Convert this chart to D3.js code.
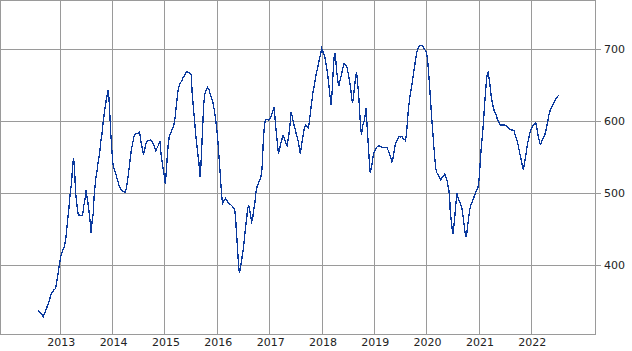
<!DOCTYPE html>
<html>
<head>
<meta charset="utf-8">
<script src="https://cdn.jsdelivr.net/npm/d3@7"></script>
<style>
  body { margin: 0; background: #fff; }
  .grid line { stroke: #9a9a9a; stroke-width: 1; shape-rendering: crispEdges; }
  .frame { fill: none; stroke: #9a9a9a; stroke-width: 1; shape-rendering: crispEdges; }
  .label { font-family: "DejaVu Sans", sans-serif; font-size: 11px; fill: #222; }
  .series { fill: none; stroke: #0b3a9e; stroke-width: 1.3; shape-rendering: crispEdges; }
</style>
</head>
<body>
<div id="chart"></div>
<script>
// weekly series, time given as decimal year
var decimalYears = [
  2012.580, 2012.631, 2012.675, 2012.720, 2012.771, 2012.822, 2012.866, 2012.911, 2012.943, 2012.975,
  2013.006, 2013.038, 2013.076, 2013.102, 2013.121, 2013.140, 2013.166, 2013.191, 2013.217, 2013.236,
  2013.255, 2013.274, 2013.293, 2013.325, 2013.344, 2013.408, 2013.427, 2013.446, 2013.471, 2013.490,
  2013.510, 2013.529, 2013.548, 2013.567, 2013.586, 2013.611, 2013.631, 2013.643, 2013.662, 2013.682,
  2013.701, 2013.720, 2013.739, 2013.758, 2013.777, 2013.796, 2013.809, 2013.828, 2013.847, 2013.866,
  2013.885, 2013.904, 2013.917, 2013.930, 2013.949, 2013.968, 2013.987, 2014.006, 2014.025, 2014.051,
  2014.076, 2014.102, 2014.127, 2014.153, 2014.185, 2014.217, 2014.242, 2014.261, 2014.280, 2014.299,
  2014.318, 2014.338, 2014.357, 2014.382, 2014.408, 2014.433, 2014.459, 2014.490, 2014.516, 2014.535,
  2014.561, 2014.586, 2014.605, 2014.624, 2014.650, 2014.682, 2014.726, 2014.758, 2014.777, 2014.803,
  2014.828, 2014.854, 2014.879, 2014.904, 2014.924, 2014.949, 2014.975, 2014.994, 2015.006, 2015.025,
  2015.045, 2015.064, 2015.083, 2015.108, 2015.134, 2015.159, 2015.185, 2015.204, 2015.223, 2015.242,
  2015.261, 2015.293, 2015.318, 2015.350, 2015.382, 2015.414, 2015.446, 2015.478, 2015.503, 2015.522,
  2015.548, 2015.573, 2015.592, 2015.611, 2015.631, 2015.650, 2015.669, 2015.688, 2015.707, 2015.726,
  2015.745, 2015.764, 2015.790, 2015.815, 2015.841, 2015.866, 2015.892, 2015.917, 2015.943, 2015.968,
  2015.987, 2016.006, 2016.025, 2016.045, 2016.064, 2016.083, 2016.102, 2016.127, 2016.159, 2016.185,
  2016.210, 2016.242, 2016.274, 2016.306, 2016.331, 2016.350, 2016.363, 2016.376, 2016.389, 2016.401,
  2016.414, 2016.427, 2016.446, 2016.465, 2016.484, 2016.503, 2016.522, 2016.541, 2016.561, 2016.580,
  2016.599, 2016.618, 2016.637, 2016.656, 2016.675, 2016.694, 2016.720, 2016.739, 2016.758, 2016.783,
  2016.809, 2016.834, 2016.854, 2016.866, 2016.879, 2016.898, 2016.917, 2016.943, 2016.975, 2017.000,
  2017.025, 2017.051, 2017.076, 2017.089, 2017.102, 2017.121, 2017.140, 2017.153, 2017.166, 2017.185,
  2017.204, 2017.229, 2017.255, 2017.280, 2017.306, 2017.331, 2017.350, 2017.369, 2017.389, 2017.408,
  2017.427, 2017.446, 2017.465, 2017.490, 2017.510, 2017.535, 2017.554, 2017.573, 2017.586, 2017.605,
  2017.624, 2017.643, 2017.662, 2017.688, 2017.713, 2017.739, 2017.758, 2017.777, 2017.796, 2017.815,
  2017.834, 2017.854, 2017.873, 2017.892, 2017.917, 2017.936, 2017.955, 2017.975, 2017.994, 2018.026,
  2018.051, 2018.071, 2018.090, 2018.109, 2018.128, 2018.147, 2018.160, 2018.173, 2018.192, 2018.212,
  2018.231, 2018.250, 2018.263, 2018.282, 2018.301, 2018.321, 2018.340, 2018.359, 2018.378, 2018.397,
  2018.423, 2018.449, 2018.474, 2018.494, 2018.513, 2018.532, 2018.551, 2018.571, 2018.583, 2018.603,
  2018.622, 2018.641, 2018.660, 2018.679, 2018.699, 2018.718, 2018.737, 2018.756, 2018.769, 2018.788,
  2018.808, 2018.827, 2018.840, 2018.853, 2018.872, 2018.891, 2018.910, 2018.923, 2018.942, 2018.962,
  2018.981, 2019.006, 2019.032, 2019.058, 2019.090, 2019.122, 2019.147, 2019.173, 2019.205, 2019.237,
  2019.263, 2019.288, 2019.314, 2019.340, 2019.359, 2019.378, 2019.397, 2019.423, 2019.449, 2019.474,
  2019.500, 2019.526, 2019.551, 2019.577, 2019.596, 2019.615, 2019.635, 2019.654, 2019.673, 2019.692,
  2019.712, 2019.731, 2019.750, 2019.769, 2019.788, 2019.808, 2019.827, 2019.853, 2019.878, 2019.910,
  2019.936, 2019.962, 2019.987, 2020.006, 2020.019, 2020.038, 2020.058, 2020.077, 2020.096, 2020.115,
  2020.135, 2020.154, 2020.173, 2020.192, 2020.218, 2020.244, 2020.269, 2020.288, 2020.308, 2020.327,
  2020.346, 2020.365, 2020.385, 2020.404, 2020.423, 2020.442, 2020.449, 2020.468, 2020.487, 2020.500,
  2020.519, 2020.538, 2020.558, 2020.577, 2020.596, 2020.615, 2020.635, 2020.654, 2020.673, 2020.692,
  2020.712, 2020.731, 2020.750, 2020.769, 2020.788, 2020.808, 2020.827, 2020.846, 2020.865, 2020.885,
  2020.904, 2020.923, 2020.942, 2020.962, 2020.981, 2021.000, 2021.013, 2021.026, 2021.045, 2021.064,
  2021.083, 2021.103, 2021.122, 2021.141, 2021.160, 2021.173, 2021.192, 2021.212, 2021.231, 2021.250,
  2021.269, 2021.288, 2021.308, 2021.327, 2021.346, 2021.365, 2021.385, 2021.410, 2021.436, 2021.462,
  2021.487, 2021.513, 2021.538, 2021.564, 2021.590, 2021.615, 2021.641, 2021.667, 2021.692, 2021.712,
  2021.731, 2021.750, 2021.769, 2021.788, 2021.808, 2021.827, 2021.846, 2021.865, 2021.885, 2021.904,
  2021.923, 2021.942, 2021.962, 2021.981, 2022.006, 2022.032, 2022.058, 2022.083, 2022.103, 2022.122,
  2022.141, 2022.160, 2022.179, 2022.199, 2022.218, 2022.237, 2022.256, 2022.276, 2022.295, 2022.314,
  2022.333, 2022.359, 2022.385, 2022.410, 2022.436, 2022.462, 2022.487, 2022.519
];

var prices = [
  337, 333, 329, 337, 347, 359, 365, 368, 382, 398,
  412, 419, 426, 435, 449, 463, 481, 502, 516, 542,
  549, 530, 500, 479, 470, 469, 470, 482, 491, 504,
  495, 486, 475, 463, 445, 463, 472, 493, 509, 523,
  531, 542, 550, 560, 574, 582, 593, 604, 616, 624,
  633, 639, 644, 632, 606, 579, 558, 541, 535, 529,
  523, 516, 510, 506, 503, 502, 501, 507, 516, 525,
  537, 549, 560, 569, 579, 582, 583, 583, 585, 574,
  565, 555, 558, 565, 572, 573, 574, 572, 569, 564,
  559, 564, 567, 572, 556, 542, 530, 521, 513, 530,
  551, 569, 579, 583, 588, 592, 600, 612, 625, 639,
  647, 653, 656, 661, 665, 669, 668, 667, 664, 637,
  616, 595, 579, 567, 553, 542, 523, 539, 569, 600,
  627, 639, 643, 647, 644, 638, 632, 626, 616, 604,
  592, 579, 560, 539, 519, 498, 486, 490, 493, 490,
  487, 485, 483, 480, 478, 467, 449, 435, 421, 407,
  394, 390, 398, 407, 417, 426, 440, 454, 465, 479,
  484, 477, 468, 461, 465, 477, 488, 502, 509, 514,
  518, 523, 535, 553, 574, 592, 602, 603, 602, 603,
  606, 613, 617, 620, 604, 588, 574, 565, 555, 560,
  567, 574, 580, 576, 570, 566, 574, 583, 595, 613,
  608, 601, 595, 588, 581, 576, 569, 560, 555, 565,
  574, 583, 591, 595, 593, 591, 600, 611, 623, 633,
  644, 650, 660, 667, 674, 681, 688, 694, 701, 695,
  690, 683, 674, 664, 653, 639, 631, 623, 639, 667,
  688, 695, 685, 669, 657, 649, 655, 661, 667, 674,
  680, 678, 676, 669, 662, 653, 644, 630, 625, 635,
  648, 660, 668, 655, 639, 616, 593, 581, 590, 597,
  601, 610, 618, 605, 583, 560, 539, 528, 535, 544,
  553, 559, 562, 565, 566, 565, 564, 564, 564, 564,
  560, 555, 549, 543, 550, 558, 566, 572, 576, 579,
  578, 579, 576, 575, 573, 583, 602, 618, 630, 639,
  648, 657, 667, 676, 685, 694, 700, 704, 705, 705,
  703, 700, 697, 692, 685, 667, 648, 627, 606, 588,
  567, 551, 535, 529, 526, 522, 519, 521, 523, 524,
  527, 523, 519, 512, 505, 491, 477, 463, 451, 444,
  454, 468, 486, 500, 495, 491, 487, 484, 479, 470,
  458, 446, 439, 446, 458, 470, 479, 484, 487, 491,
  495, 498, 502, 505, 509, 519, 532, 549, 565, 581,
  597, 620, 639, 657, 667, 668, 660, 648, 635, 627,
  620, 615, 612, 609, 604, 601, 598, 594, 595, 595,
  595, 594, 592, 590, 589, 588, 588, 587, 581, 576,
  572, 566, 559, 552, 546, 538, 533, 540, 549, 558,
  567, 574, 581, 587, 591, 594, 596, 598, 592, 583,
  576, 570, 568, 572, 575, 578, 581, 586, 593, 600,
  608, 615, 619, 623, 626, 630, 633, 636
];

var yearTicks = [2013, 2014, 2015, 2016, 2017, 2018, 2019, 2020, 2021, 2022];
var valueTicks = [400, 500, 600, 700];

var vars = {};
vars.width = 632;
vars.height = 351;
vars.plot = { left: 0, top: 0, width: 595, height: 334 };

function toDate(dy) {
  var y = Math.floor(dy);
  var start = new Date(y, 0, 1), end = new Date(y + 1, 0, 1);
  return new Date(+start + (dy - y) * (end - start));
}

var points = decimalYears.map(function(d, i) {
  return { date: toDate(d), value: prices[i] };
});

var svg = d3.select("#chart").append("svg")
  .attr("width", vars.width)
  .attr("height", vars.height);

var g = svg.append("g")
  .attr("transform", "translate(" + vars.plot.left + "," + vars.plot.top + ")");

var x = d3.scaleTime()
  .domain([new Date(2011, 10, 7), new Date(2023, 2, 21)])
  .range([0, vars.plot.width]);

var y = d3.scaleLinear()
  .domain([304.6, 768.5])
  .range([vars.plot.height, 0]);

// vertical grid (one line per year)
g.append("g")
  .attr("class", "grid")
  .selectAll("line")
  .data(yearTicks)
  .enter().append("line")
  .attr("x1", function(d) { return Math.floor(x(new Date(d, 0, 1))) + 0.5; })
  .attr("x2", function(d) { return Math.floor(x(new Date(d, 0, 1))) + 0.5; })
  .attr("y1", 0)
  .attr("y2", vars.plot.height);

// horizontal grid, running a little past the frame as tick marks
g.append("g")
  .attr("class", "grid")
  .selectAll("line")
  .data(valueTicks)
  .enter().append("line")
  .attr("x1", 0)
  .attr("x2", vars.plot.width + 6)
  .attr("y1", function(d) { return Math.floor(y(d)) + 0.5; })
  .attr("y2", function(d) { return Math.floor(y(d)) + 0.5; });

g.append("rect")
  .attr("class", "frame")
  .attr("x", 0.5)
  .attr("y", 0.5)
  .attr("width", vars.plot.width)
  .attr("height", vars.plot.height - 0.5);

// year labels under the frame
g.append("g")
  .selectAll("text")
  .data(yearTicks)
  .enter().append("text")
  .attr("class", "label")
  .attr("text-anchor", "middle")
  .attr("x", function(d) { return x(new Date(d, 0, 1)) + 1; })
  .attr("y", 346)
  .text(function(d) { return d; });

// value labels on the right
g.append("g")
  .selectAll("text")
  .data(valueTicks)
  .enter().append("text")
  .attr("class", "label")
  .attr("x", vars.plot.width + 9)
  .attr("y", function(d) { return y(d); })
  .attr("dy", "0.36em")
  .text(function(d) { return d; });

var line = d3.line()
  .x(function(d) { return x(d.date); })
  .y(function(d) { return y(d.value); });

g.append("path")
  .datum(points)
  .attr("class", "series")
  .attr("d", line);
</script>
</body>
</html>
